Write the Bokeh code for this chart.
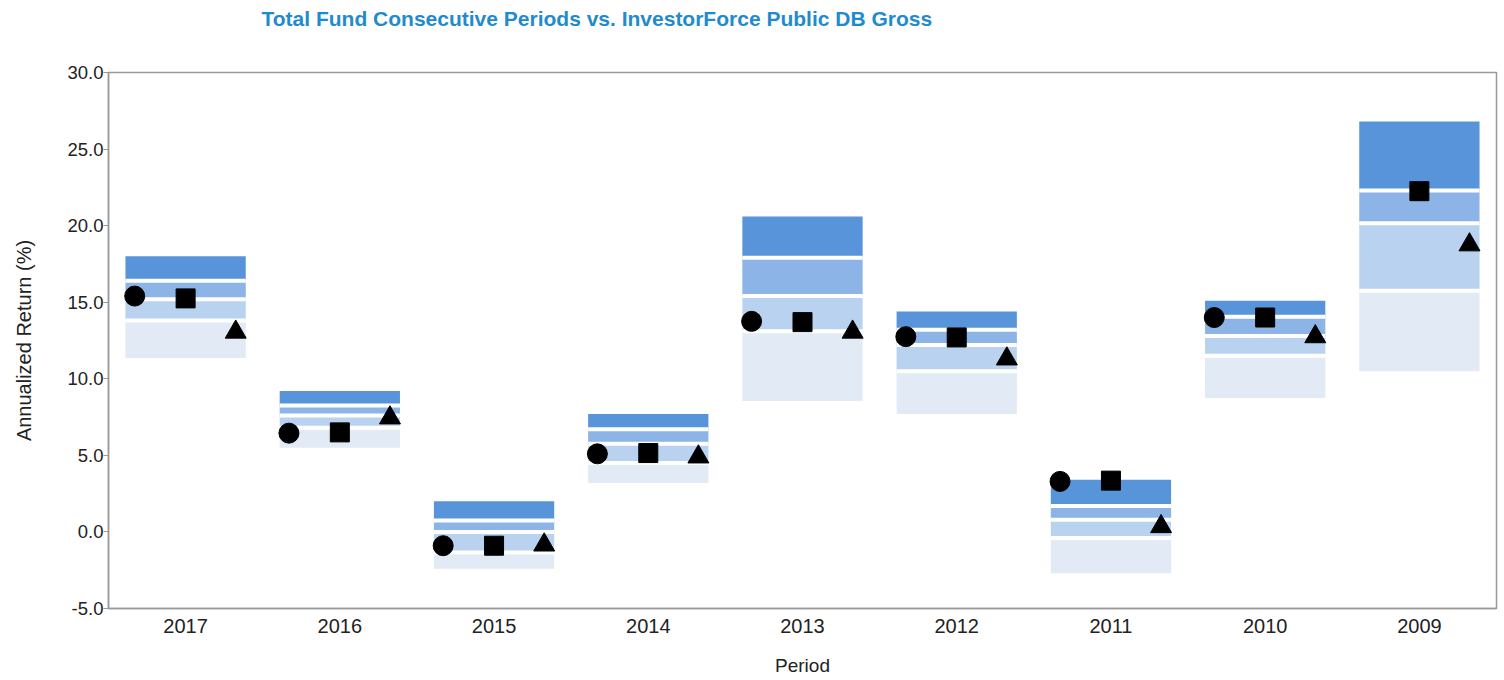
from bokeh.plotting import figure
from bokeh.models import FactorRange, Range1d, FixedTicker, PrintfTickFormatter, ColumnDataSource, Title
from bokeh.transform import dodge
from bokeh.embed import file_html
from bokeh.resources import INLINE

nan = float("nan")

periods = ["2017", "2016", "2015", "2014", "2013", "2012", "2011", "2010", "2009"]
p05 = [18.0, 9.2, 2.0, 7.7, 20.6, 14.4, 3.4, 15.1, 26.8]
p25 = [16.4, 8.25, 0.75, 6.7, 17.9, 13.2, 1.7, 14.05, 22.3]
p50 = [15.2, 7.6, 0.0, 5.75, 15.4, 12.2, 0.8, 12.8, 20.15]
p75 = [13.8, 6.8, -1.35, 4.5, 13.1, 10.5, -0.4, 11.5, 15.75]
p95 = [11.35, 5.5, -2.4, 3.2, 8.55, 7.7, -2.7, 8.75, 10.5]
total_fund = [15.4, 6.45, -0.9, 5.1, 13.75, 12.75, 3.3, 14.0, nan]
policy_index = [15.25, 6.5, -0.9, 5.15, 13.7, 12.7, 3.35, 14.0, 22.25]
allocation_index = [13.05, 7.45, -0.85, 4.9, 13.05, 11.3, 0.35, 12.75, 18.75]
y_ticks = [-5, 0, 5, 10, 15, 20, 25, 30]
title_text = "Total Fund Consecutive Periods vs. InvestorForce Public DB Gross"

src = ColumnDataSource(dict(period=periods, p05=p05, p25=p25, p50=p50, p75=p75, p95=p95,
                            fund=total_fund, policy=policy_index, alloc=allocation_index))

H = 678
p = figure(x_range=FactorRange(*periods, range_padding=0, factor_padding=0),
           y_range=Range1d(-5, 30), width=1500, height=H,
           output_backend="svg", toolbar_location=None,
           min_border_left=108, min_border_right=4, min_border_top=71, min_border_bottom=68)

# real title (outermost), blank spacer title between it and the frame
p.title.text = title_text
p.title.text_font = "Liberation Sans"
p.title.text_font_style = "bold"
p.title.text_font_size = "21px"
p.title.text_color = "#1f8bcf"
p.title.align = "left"
p.title.offset = 153
p.title.standoff = 8

p.add_layout(Title(text=" ", text_font="Liberation Sans", text_font_size="19px", standoff=16), "above")

bw = 0.78
p.vbar(x="period", width=bw, bottom="p25", top="p05", source=src, fill_color="#5894da", line_color=None)
p.vbar(x="period", width=bw, bottom="p50", top="p25", source=src, fill_color="#8cb4e6", line_color=None)
p.vbar(x="period", width=bw, bottom="p75", top="p50", source=src, fill_color="#b9d2f0", line_color=None)
p.vbar(x="period", width=bw, bottom="p95", top="p75", source=src, fill_color="#e2eaf6", line_color=None)

for col in ["p25", "p50", "p75"]:
    p.segment(x0=dodge("period", -bw / 2, range=p.x_range), x1=dodge("period", bw / 2, range=p.x_range),
              y0=col, y1=col, source=src, line_color="white", line_width=4)

p.scatter(x=dodge("period", -0.33, range=p.x_range), y="fund", source=src, marker="circle",
          size=20, fill_color="black", line_color="black")
p.scatter(x=dodge("period", 0.0, range=p.x_range), y="policy", source=src, marker="square",
          size=19, fill_color="black", line_color="black")
p.scatter(x=dodge("period", 0.325, range=p.x_range), y="alloc", source=src, marker="triangle",
          size=21, fill_color="black", line_color="black")

p.xgrid.visible = False
p.ygrid.visible = False
p.outline_line_color = "#9a9a9a"
p.outline_line_width = 1.5

p.xaxis.axis_label = "Period"
p.xaxis.axis_label_text_font = "Liberation Sans"
p.xaxis.axis_label_text_font_style = "normal"
p.xaxis.axis_label_text_font_size = "19px"
p.xaxis.axis_label_text_color = "#222222"
p.xaxis.axis_label_standoff = 19
p.xaxis.major_label_text_font = "Liberation Sans"
p.xaxis.major_label_text_font_size = "20px"
p.xaxis.major_label_text_color = "#222222"
p.xaxis.major_label_standoff = 4
p.xaxis.major_tick_line_color = None
p.xaxis.minor_tick_line_color = None
p.xaxis.axis_line_color = "#9a9a9a"
p.xaxis.axis_line_width = 1.5

p.yaxis.ticker = FixedTicker(ticks=y_ticks)
p.yaxis.formatter = PrintfTickFormatter(format="%.1f")
p.yaxis.axis_label = "Annualized Return (%)"
p.yaxis.axis_label_text_font = "Liberation Sans"
p.yaxis.axis_label_text_font_style = "normal"
p.yaxis.axis_label_text_font_size = "20px"
p.yaxis.axis_label_text_color = "#222222"
p.yaxis.axis_label_standoff = 29
p.yaxis.major_label_text_font = "Liberation Sans"
p.yaxis.major_label_text_font_size = "18.5px"
p.yaxis.major_label_text_color = "#222222"
p.yaxis.major_label_standoff = 0
p.yaxis.major_tick_out = 5
p.yaxis.major_tick_in = 0
p.yaxis.major_tick_line_color = "#9a9a9a"
p.yaxis.minor_tick_line_color = None
p.yaxis.axis_line_color = "#9a9a9a"
p.yaxis.axis_line_width = 1.5

open("out.html", "w").write(file_html(p, INLINE))
